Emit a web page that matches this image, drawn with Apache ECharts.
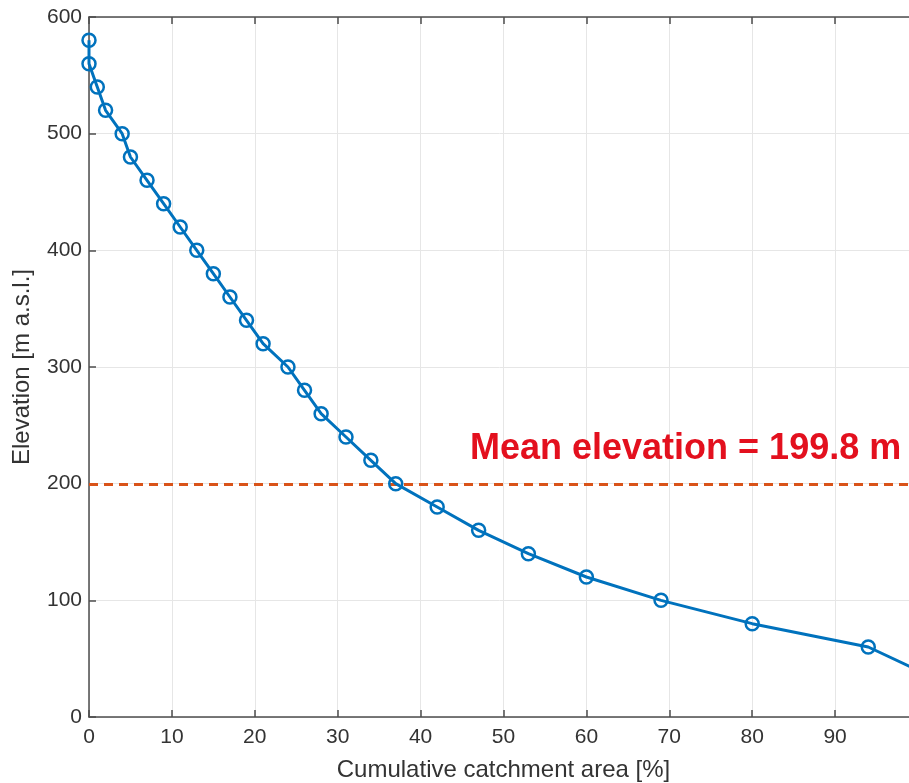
<!DOCTYPE html>
<html>
<head>
<meta charset="utf-8">
<script src="https://cdn.jsdelivr.net/npm/echarts@6/dist/echarts.min.js"></script>
<style>
html,body{margin:0;padding:0;background:#fff;}
#chart{width:909px;height:783px;}
</style>
</head>
<body>
<div id="chart"></div>
<script>
// Cumulative catchment area [%]
const areaPct = [0, 0, 1, 2, 4, 5, 7, 9, 11, 13, 15, 17, 19, 21, 24, 26, 28, 31, 34, 37, 42, 47, 53, 60, 69, 80, 94, 100];
// Elevation [m a.s.l.]
const elevation = [580, 560, 540, 520, 500, 480, 460, 440, 420, 400, 380, 360, 340, 320, 300, 280, 260, 240, 220, 200, 180, 160, 140, 120, 100, 80, 60, 40];
const meanElevation = 199.8;
const meanLabel = 'Mean elevation = 199.8 m';
const xTitle = 'Cumulative catchment area [%]';
const yTitle = 'Elevation [m a.s.l.]';

const pts = areaPct.map((x, i) => [x, elevation[i]]);
const font = '"Liberation Sans", Arial, Helvetica, sans-serif';
const axisCol = '#4d4d4d';
const gridCol = '#e6e6e6';
const txtCol = '#333333';

const chart = echarts.init(document.getElementById('chart'));
chart.setOption({
  backgroundColor: '#fff',
  animation: false,
  grid: {left: 89, top: 17, width: 829, height: 700, containLabel: false, outerBoundsMode: 'none'},
  xAxis: [{
    type: 'value', min: 0, max: 100, interval: 10,
    name: xTitle, nameLocation: 'middle', nameGap: 41,
    nameTextStyle: {fontFamily: font, fontSize: 24, color: txtCol},
    axisLine: {show: true, onZero: false, lineStyle: {color: axisCol, width: 1.5}},
    axisTick: {show: true, inside: true, length: 7, lineStyle: {color: axisCol, width: 1.5}},
    axisLabel: {fontFamily: font, fontSize: 21, color: txtCol, margin: 10,
      formatter: v => (v < 100 ? String(v) : '')},
    splitLine: {show: true, lineStyle: {color: gridCol, width: 1}}
  }, {
    type: 'value', min: 0, max: 100, interval: 10, position: 'top',
    axisLine: {show: true, onZero: false, lineStyle: {color: axisCol, width: 1.5}},
    axisTick: {show: true, inside: true, length: 7, lineStyle: {color: axisCol, width: 1.5}},
    axisLabel: {show: false}, splitLine: {show: false}
  }],
  yAxis: [{
    type: 'value', min: 0, max: 600, interval: 100,
    name: yTitle, nameLocation: 'middle', nameGap: 55, nameRotate: 90,
    nameTextStyle: {fontFamily: font, fontSize: 24, color: txtCol},
    axisLine: {show: true, onZero: false, lineStyle: {color: axisCol, width: 1.5}},
    axisTick: {show: true, inside: true, length: 7, lineStyle: {color: axisCol, width: 1.5}},
    axisLabel: {fontFamily: font, fontSize: 21, color: txtCol, margin: 7},
    splitLine: {show: true, lineStyle: {color: gridCol, width: 1}}
  }],
  series: [{
    type: 'line', data: pts, xAxisIndex: 0, yAxisIndex: 0,
    symbol: 'circle', symbolSize: 13, showAllSymbol: true,
    itemStyle: {color: 'rgba(255,255,255,0)', borderColor: '#0072BD', borderWidth: 2.5},
    lineStyle: {color: '#0072BD', width: 3},
    z: 3,
    markLine: {
      silent: true, symbol: ['none', 'none'],
      label: {show: false},
      lineStyle: {color: '#D95319', width: 3, type: [9, 6], opacity: 1},
      data: [{yAxis: meanElevation}],
      z: 2
    }
  }],
  graphic: [{
    type: 'text', left: 470, top: 431, z: 100,
    style: {text: meanLabel, fill: '#E3101E', font: 'bold 36px ' + font}
  }]
});
</script>
</body>
</html>
